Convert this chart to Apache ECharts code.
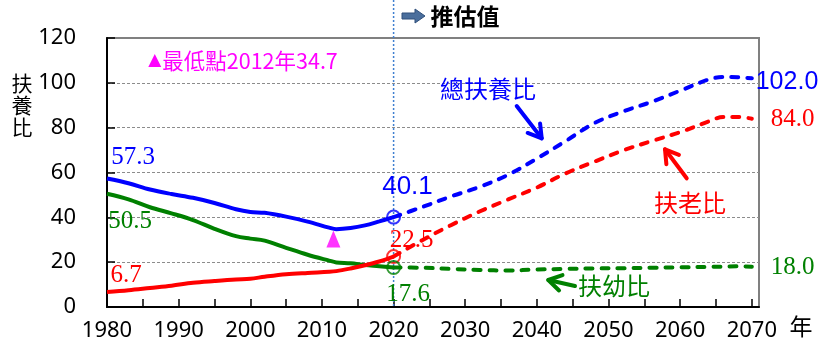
<!DOCTYPE html>
<html><head><meta charset="utf-8">
<script src="https://cdn.jsdelivr.net/npm/echarts@6/dist/echarts.min.js"></script>
<style>html,body{margin:0;padding:0;background:#fff}#c{width:828px;height:351px}</style>
</head><body><div id="c"></div>
<script>
// Historical (solid)
const histYears = [1980,1983,1986,1989,1992,1995,1998,2000,2002,2005,2008,2011,2012,2014,2016,2018,2020];
const histTotal = [57.3,55.2,52.4,50.4,48.7,46.4,43.6,42.4,42.0,40.3,38.1,35.4,34.7,35.2,36.4,38.2,40.1];
const histYoung = [50.5,48.0,44.5,41.8,38.8,34.9,31.6,30.5,29.6,26.4,23.3,20.7,19.9,19.5,18.7,18.2,17.6];
const histOld   = [6.7,7.5,8.5,9.5,10.8,11.6,12.3,12.6,13.5,14.6,15.2,15.7,16.0,17.2,18.6,20.3,22.5];
// Projection (dashed)
const projYears = [2020,2024,2028,2032,2036,2040,2044,2048,2052,2056,2060,2064,2066,2068,2070];
const projTotal = [40.1,44.6,49.3,53.6,59.0,66.2,74.0,82.0,87.2,91.5,96.5,101.5,102.6,102.5,102.0];
const projOld   = [22.5,29.8,36.5,42.6,48.0,53.3,59.6,64.8,69.8,74.0,78.0,82.8,84.8,84.8,84.0];
const projYoung = [17.6,17.5,17.0,16.5,16.3,16.7,17.0,17.2,17.3,17.5,17.7,17.9,18.0,18.2,18.0];
const minYear = 2012, minValue = 34.7;
const baseYear = 2020;
const yTicks = [0,20,40,60,80,100,120];

const BLUE='#0000FF', RED='#FF0000', GREEN='#008000', MAG='#FF00FF';
const pair = (xs, ys) => xs.map((x,i)=>[x, ys[i]]);
const chart = echarts.init(document.getElementById('c'), null, {renderer:'canvas'});
const solid = (c) => ({color:c, width:4});
const dashed = (c) => ({color:c, width:4, type:[7,9], cap:'round'});
const lineSeries = (data, style, z) => ({type:'line', data, showSymbol:false, smooth:0.35, lineStyle:style, z:z||2, silent:true, animation:false});

chart.setOption({
  animation:false,
  grid:{left:107, right:69, top:38, bottom:44, show:true, borderColor:'#808080', borderWidth:2, backgroundColor:'transparent'},
  xAxis:{type:'value', min:1980, max:2071, interval:5,
    axisLine:{lineStyle:{color:'#000', width:2}},
    axisTick:{inside:true, length:8, lineStyle:{color:'#000', width:1.5}},
    axisLabel:{fontFamily:'Noto Sans', fontSize:22, color:'#000', margin:13, showMaxLabel:false,
      formatter:(v)=> (v%10===0 && v<=2070) ? String(v) : ''},
    splitLine:{show:false}},
  yAxis:{type:'value', min:yTicks[0], max:yTicks[yTicks.length-1], interval:20,
    axisLine:{show:true, lineStyle:{color:'#000', width:2}},
    axisTick:{show:true, inside:true, length:8, lineStyle:{color:'#000', width:1.5}},
    axisLabel:{fontFamily:'Noto Sans', fontSize:22, color:'#000', margin:31},
    splitLine:{show:true, showMinLine:false, showMaxLine:false, lineStyle:{color:'#8c8c8c', width:1, type:[3,2]}}},
  series:[
    lineSeries(pair(histYears, histYoung), solid(GREEN), 2),
    lineSeries(pair(histYears, histOld), solid(RED), 3),
    lineSeries(pair(histYears, histTotal), solid(BLUE), 3),
    lineSeries(pair(projYears, projYoung), dashed(GREEN), 2),
    lineSeries(pair(projYears, projOld), dashed(RED), 3),
    lineSeries(pair(projYears, projTotal), dashed(BLUE), 3),
    {type:'scatter', silent:true, z:5, symbol:'circle', symbolSize:13,
      data:[
        {value:[baseYear, histTotal[histTotal.length-1]], itemStyle:{borderColor:BLUE}},
        {value:[baseYear, histOld[histOld.length-1]], itemStyle:{borderColor:RED}},
        {value:[baseYear, histYoung[histYoung.length-1]], itemStyle:{borderColor:GREEN}}
      ],
      itemStyle:{color:'rgba(255,255,255,0)', borderWidth:2}},
    {type:'scatter', silent:true, z:5, symbol:'triangle', symbolSize:[14,17],
      data:[[minYear - 0.4, minValue - 4.4]], itemStyle:{color:MAG}}
  ]
});

const bx = chart.convertToPixel({xAxisIndex:0}, baseYear);
const by0 = chart.convertToPixel({yAxisIndex:0}, 0);

function arrow(x1,y1,x2,y2,color){
  const a = Math.atan2(y2-y1, x2-x1), L = 15, s = 0.55;
  return {type:'group', z:10, children:[
    {type:'line', shape:{x1,y1,x2,y2}, style:{stroke:color, lineWidth:4, lineCap:'round'}},
    {type:'polyline', shape:{points:[[x2-L*Math.cos(a-s), y2-L*Math.sin(a-s)],[x2,y2],[x2-L*Math.cos(a+s), y2-L*Math.sin(a+s)]]},
      style:{stroke:color, lineWidth:4, lineCap:'round', lineJoin:'round', fill:null}}
  ]};
}
function txt(text, x, y, font, color, extra){
  return {type:'text', z:20, style:Object.assign({text, x, y, font, fill:color, textAlign:'center', textVerticalAlign:'middle'}, extra||{})};
}
const SERIF = '25px "Liberation Serif"';
const CJK = '"Noto Sans CJK TC"';
chart.setOption({graphic:[
  {type:'line', z:1, shape:{x1:bx, y1:0, x2:bx, y2:by0}, style:{stroke:'#3f7fd0', lineWidth:1.5, lineDash:[2,2]}},
  {type:'polygon', z:20, shape:{points:[[402,13],[415,13],[415,9],[425,16],[415,23],[415,19],[402,19]]}, style:{fill:'#4a6e9c', stroke:'#2f4f7a', lineWidth:1}},
  txt('推估值', 465, 16, 'bold 23px '+CJK, '#000'),
  txt('{t|▲}最低點'+minYear+'年'+minValue.toFixed(1), 243, 61, '21.5px '+CJK, MAG,
      {rich:{t:{font:'17px "DejaVu Sans"', fill:MAG, padding:[0,1,0,0]}}}),
  txt(histTotal[0].toFixed(1), 133, 157, SERIF, BLUE),
  txt(histYoung[0].toFixed(1), 130, 221, SERIF, GREEN),
  txt(histOld[0].toFixed(1), 126, 275, SERIF, RED),
  txt(histTotal[histTotal.length-1].toFixed(1), 407.5, 187, '26px "Liberation Sans"', BLUE),
  txt(histOld[histOld.length-1].toFixed(1), 411.5, 240, SERIF, RED),
  txt(histYoung[histYoung.length-1].toFixed(1), 408, 294, SERIF, GREEN),
  txt(projTotal[projTotal.length-1].toFixed(1), 787, 82.5, '25px "Liberation Sans"', BLUE),
  txt(projOld[projOld.length-1].toFixed(1), 792.5, 119, SERIF, RED),
  txt(projYoung[projYoung.length-1].toFixed(1), 792.5, 267.5, SERIF, GREEN),
  txt('總扶養比', 488, 89, '24px '+CJK, BLUE),
  txt('扶老比', 690, 202.5, '24px '+CJK, RED),
  txt('扶幼比', 614, 286, '24px '+CJK, GREEN),
  txt('年', 801, 326.5, '23px '+CJK, '#000'),
  txt('扶\n養\n比', 22, 105, '21px '+CJK, '#000', {lineHeight:22}),
  arrow(516.7,106,541.7,138.3,BLUE),
  arrow(686.7,178.3,665,149.3,RED),
  arrow(575,286,548.3,280,GREEN)
]});
</script></body></html>
